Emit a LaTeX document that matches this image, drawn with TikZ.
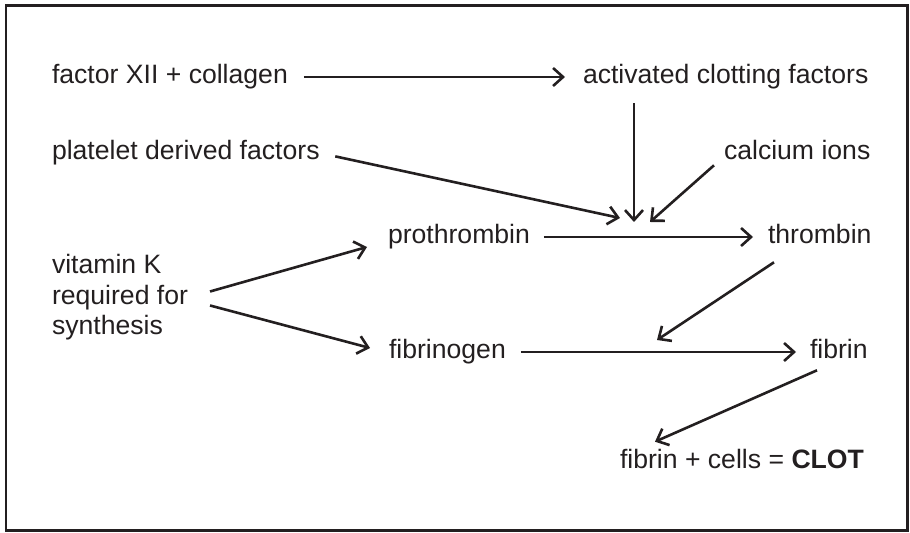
\documentclass[tikz,border=0pt]{standalone}
\usepackage{fontspec}
\setmainfont{Liberation Sans}
\usepackage{tikz}
\usetikzlibrary{arrows.meta, positioning}
\definecolor{ink}{RGB}{35,31,32}
\tikzset{
    term/.style={anchor=west, inner sep=0pt, outer sep=0pt, text=ink, font=\fontsize{13.3}{15.3}\selectfont, text height=9.5pt, text depth=2.8pt},
    flow/.style={-{Straight Barb[length=5pt, width=9pt, line width=1.3pt]}, line width=1.3pt, draw=ink},
    frame/.style={draw=ink, line width=1.3pt}
}
\begin{document}
\begin{tikzpicture}[x=0.5pt, y=-0.5pt]
    \useasboundingbox (0,0) rectangle (910,533);
    \draw[frame] (6,5.5) rectangle (907.5,530.5);

    % Terms
    \node[term] (fxii) at (52,77) {factor XII + collagen};
    \node[term] (act) at (583,77) {activated clotting factors};
    \node[term] (plat) at (52,153) {platelet derived factors};
    \node[term] (calc) at (724,153) {calcium ions};
    \node[term] (pro) at (388,237) {prothrombin};
    \node[term] (thr) at (768,237) {thrombin};
    \node[term, align=left, text height=, text depth=] (vitk) at (52,297.5) {vitamin K\\required for\\synthesis};
    \node[term] (fgen) at (389,352) {fibrinogen};
    \node[term] (fib) at (810,352) {fibrin};
    \node[term] (clot) at (620,462) {fibrin + cells = \textbf{CLOT}};

    % Arrow ends
    \coordinate (hubA) at (634,222);
    \coordinate (hubP) at (620,218);
    \coordinate (hubC) at (650,222);
    \coordinate (hubB) at (657,340);
    \coordinate (calcfoot) at ([xshift=-5pt]calc.south west);
    \coordinate (vkup) at ([xshift=11pt, yshift=3pt]vitk.east);
    \coordinate (vkdown) at ([xshift=11pt, yshift=-4pt]vitk.east);
    \coordinate (protip) at ([xshift=-10.5pt, yshift=-5pt]pro.west);
    \coordinate (fgentip) at ([xshift=-9.5pt, yshift=2pt]fgen.west);
    \coordinate (thrfoot) at ([xshift=3pt, yshift=-6.5pt]thr.south west);
    \coordinate (fibfoot) at ([xshift=3.5pt, yshift=-3pt]fib.south west);
    \coordinate (clottip) at ([xshift=17.5pt, yshift=4pt]clot.north west);

    % Connectors
    \draw[flow, shorten <=8pt, shorten >=9pt] (fxii.east) -- (act.west);
    \draw[flow, shorten <=7pt] (act.south -| hubA) -- (hubA);
    \draw[flow, shorten <=8pt] (plat.east) -- (hubP);
    \draw[flow] (calcfoot) -- (hubC);
    \draw[flow, shorten <=7pt, shorten >=7.5pt] (pro.east) -- (thr.west);
    \draw[flow] (vkup) -- (protip);
    \draw[flow] (vkdown) -- (fgentip);
    \draw[flow] (thrfoot) -- (hubB);
    \draw[flow, shorten <=7.5pt, shorten >=7pt] (fgen.east) -- (fib.west);
    \draw[flow] (fibfoot) -- (clottip);
\end{tikzpicture}
\end{document}
